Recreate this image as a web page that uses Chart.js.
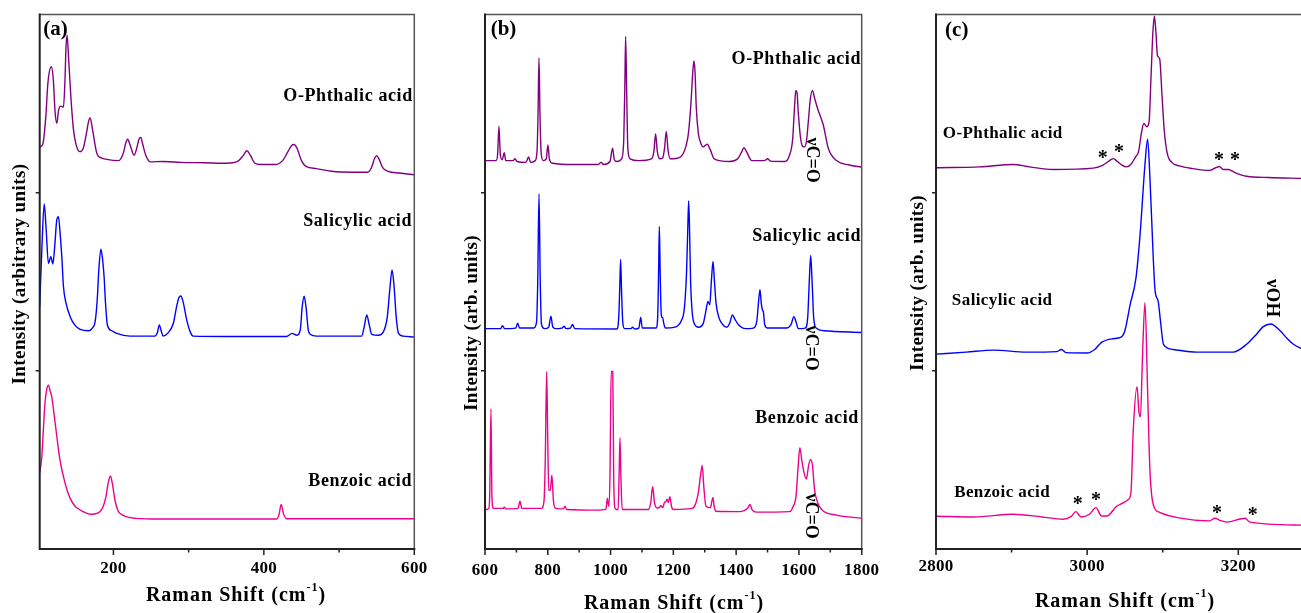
<!DOCTYPE html>
<html lang="en">
<head>
<meta charset="UTF-8" />
<title>Raman spectra</title>
<style>
  html, body { margin: 0; padding: 0; background: #fff; overflow: hidden; }
  body { width: 1301px; height: 613px; position: relative; }
  .panel { position: absolute; top: 0; height: 613px; }
</style>
</head>
<body>
<div class="panel" style="left:0;width:440px"><canvas id="chartA"></canvas></div>
<div class="panel" style="left:440px;width:440px"><canvas id="chartB"></canvas></div>
<div class="panel" style="left:880px;width:430px"><canvas id="chartC"></canvas></div>
<script src="https://cdn.jsdelivr.net/npm/chart.js@4.4.1/dist/chart.umd.min.js"></script>
<script>
// spectra as [raman shift, stacked intensity]
const phthalicA = [[102,2.257],[106,2.27],[110,2.42],[113,2.62],[117.5,2.707],[120,2.64],[122.5,2.45],[124.8,2.389],[127,2.46],[130,2.486],[133.6,2.48],[135.5,2.62],[137,2.82],[138.5,2.884],[140.5,2.75],[143.4,2.54],[147,2.35],[151,2.26],[155.8,2.23],[160,2.25],[164,2.33],[167,2.40],[169,2.42],[172,2.36],[178,2.22],[184,2.195],[191,2.187],[207,2.18],[213,2.22],[216.5,2.28],[219,2.30],[222,2.27],[227.5,2.21],[231,2.25],[234,2.30],[236.4,2.31],[239,2.27],[243,2.21],[249,2.173],[265,2.175],[290,2.17],[320,2.168],[350,2.165],[365,2.175],[372,2.205],[377.5,2.235],[382,2.21],[388,2.165],[395,2.158],[415,2.158],[425,2.18],[432,2.23],[437,2.265],[440,2.27],[444,2.25],[450,2.18],[456,2.148],[470,2.135],[490,2.12],[520,2.115],[538,2.115],[543,2.14],[547,2.19],[550,2.208],[553,2.19],[558,2.14],[565,2.12],[580,2.11],[600,2.10]];
const salicylicA = [[102,1.36],[105,1.70],[108,1.936],[110.5,1.80],[113.6,1.603],[116.8,1.64],[119.5,1.60],[122,1.70],[124.5,1.84],[126.9,1.865],[129,1.78],[131.4,1.64],[133.6,1.472],[137,1.38],[142.5,1.304],[149,1.255],[155.8,1.233],[166.8,1.225],[172,1.24],[175.7,1.276],[178.5,1.40],[180.5,1.56],[183.3,1.682],[185.5,1.63],[187.6,1.528],[189.5,1.38],[192,1.257],[198,1.225],[204.5,1.21],[222,1.195],[255,1.195],[258.5,1.215],[261,1.257],[263.5,1.225],[266,1.195],[272,1.21],[279.7,1.267],[284,1.36],[287,1.41],[289.6,1.42],[292.5,1.39],[297.5,1.285],[302,1.22],[306,1.195],[350,1.193],[430,1.193],[437.6,1.21],[444,1.20],[448.4,1.23],[451,1.36],[453.5,1.419],[456,1.36],[459,1.23],[462,1.204],[470,1.195],[530,1.195],[533.5,1.25],[536.8,1.314],[540,1.26],[543.4,1.205],[552,1.20],[559,1.22],[564,1.30],[567.5,1.46],[570.4,1.566],[573,1.48],[576,1.30],[579,1.21],[585,1.195],[600,1.19]];
const benzoicA = [[102,0.425],[104.8,0.518],[107,0.68],[109,0.818],[111.5,0.90],[113.6,0.92],[116,0.885],[118,0.855],[121,0.76],[124.8,0.63],[128.5,0.51],[133.6,0.406],[138,0.335],[142.5,0.284],[149,0.24],[155.8,0.219],[162,0.205],[169,0.195],[176,0.198],[182,0.209],[186.5,0.24],[190,0.293],[193,0.37],[196,0.41],[198.5,0.37],[202,0.275],[205.5,0.22],[208.7,0.20],[218,0.18],[230,0.172],[260,0.168],[330,0.168],[417,0.168],[420,0.19],[423,0.25],[426,0.20],[430,0.17],[480,0.17],[600,0.17]];

const phthalicB = [[600,2.18],[635,2.18],[640,2.21],[644.5,2.373],[649,2.21],[655,2.185],[661.5,2.224],[666,2.18],[690,2.18],[695.5,2.19],[702,2.175],[730,2.17],[739,2.20],[745,2.17],[760,2.18],[766,2.24],[769,2.45],[772,2.757],[775,2.45],[779,2.22],[786,2.18],[795,2.19],[800.5,2.268],[805,2.19],[815,2.165],[880,2.158],[960,2.158],[969.5,2.17],[978,2.158],[998,2.175],[1006.5,2.25],[1012,2.185],[1020,2.175],[1035,2.19],[1042,2.30],[1045.5,2.60],[1048,2.877],[1051,2.60],[1055,2.25],[1062,2.19],[1090,2.18],[1130,2.19],[1138,2.23],[1143.5,2.329],[1149,2.23],[1157,2.19],[1166,2.195],[1172,2.25],[1177.5,2.344],[1183,2.24],[1190,2.19],[1222,2.20],[1240,2.26],[1248,2.333],[1256,2.50],[1262,2.68],[1265.5,2.739],[1269,2.68],[1273,2.48],[1279.6,2.333],[1285,2.29],[1295,2.257],[1308,2.272],[1318,2.24],[1330,2.19],[1380,2.175],[1405,2.19],[1418,2.23],[1425,2.252],[1433,2.23],[1450,2.18],[1490,2.18],[1500,2.19],[1510,2.177],[1555,2.175],[1570,2.21],[1580,2.30],[1586,2.48],[1590,2.574],[1594,2.56],[1598,2.45],[1605,2.31],[1612,2.26],[1618,2.257],[1624,2.29],[1630,2.40],[1636,2.52],[1643,2.574],[1650,2.53],[1660,2.47],[1670,2.42],[1678,2.377],[1694,2.246],[1720,2.18],[1760,2.155],[1800,2.143]];
const salicylicB = [[600,1.237],[650,1.237],[656,1.254],[662,1.237],[698,1.24],[704,1.267],[710,1.24],[755,1.24],[764,1.27],[768,1.50],[772,1.993],[776,1.50],[780,1.26],[790,1.237],[803,1.245],[810,1.307],[816,1.245],[825,1.237],[845,1.24],[852,1.25],[858,1.237],[872,1.24],[879,1.26],[886,1.237],[1020,1.235],[1026,1.30],[1029,1.45],[1032,1.625],[1035,1.45],[1039,1.27],[1045,1.237],[1065,1.237],[1070,1.245],[1077,1.235],[1090,1.24],[1096,1.30],[1101,1.24],[1145,1.24],[1150,1.30],[1153,1.55],[1155.4,1.811],[1158,1.55],[1161,1.33],[1163,1.30],[1166,1.30],[1169,1.27],[1175,1.24],[1205,1.245],[1212,1.25],[1225,1.28],[1235,1.35],[1242,1.55],[1246,1.80],[1248.8,1.954],[1251.5,1.80],[1255,1.50],[1260,1.33],[1268,1.26],[1280,1.245],[1295,1.265],[1303,1.33],[1310,1.39],[1316,1.37],[1321,1.50],[1326.4,1.614],[1331,1.50],[1336,1.38],[1345,1.30],[1355,1.265],[1370,1.245],[1380,1.27],[1388,1.314],[1396,1.29],[1407,1.26],[1430,1.237],[1455,1.24],[1466,1.28],[1471,1.38],[1476,1.456],[1480,1.38],[1484,1.34],[1487,1.33],[1491,1.26],[1500,1.24],[1560,1.24],[1575,1.26],[1584,1.304],[1590,1.28],[1598,1.237],[1620,1.24],[1628,1.30],[1633,1.50],[1637.5,1.647],[1642,1.50],[1647,1.30],[1655,1.24],[1680,1.225],[1800,1.215]];
const benzoicB = [[600,0.22],[612,0.228],[615,0.30],[619,0.787],[622,0.30],[626,0.228],[658,0.228],[662,0.235],[666,0.225],[705,0.228],[711.5,0.268],[717,0.228],[780,0.228],[788,0.27],[792,0.50],[796.5,0.996],[800,0.60],[803,0.33],[808,0.33],[813,0.414],[818,0.27],[825,0.228],[850,0.225],[855,0.24],[860,0.222],[960,0.218],[985,0.222],[990,0.285],[994,0.24],[998,0.40],[1002,0.996],[1007,0.996],[1010,0.40],[1014,0.228],[1024,0.22],[1027,0.40],[1030,0.623],[1033,0.40],[1037,0.222],[1120,0.222],[1128,0.26],[1134,0.349],[1140,0.26],[1148,0.23],[1157,0.235],[1160,0.245],[1166,0.232],[1172,0.262],[1176,0.265],[1180,0.28],[1184,0.26],[1189,0.294],[1194,0.24],[1200,0.222],[1260,0.228],[1272,0.26],[1280,0.32],[1287,0.42],[1292,0.469],[1297,0.35],[1304,0.24],[1318,0.232],[1323,0.27],[1326,0.29],[1330,0.24],[1336,0.212],[1410,0.21],[1437,0.23],[1444,0.25],[1451,0.22],[1465,0.207],[1570,0.21],[1582,0.24],[1591,0.30],[1597,0.45],[1603,0.568],[1609,0.50],[1616,0.43],[1624,0.393],[1630,0.46],[1637,0.502],[1643,0.47],[1650,0.33],[1660,0.26],[1673,0.22],[1720,0.19],[1800,0.173]];

const phthalicC = [[2800,2.14],[2858,2.145],[2902,2.158],[2924,2.145],[2955,2.13],[3008,2.138],[3021,2.155],[3028,2.175],[3034.6,2.191],[3040,2.175],[3046,2.155],[3052,2.145],[3058,2.16],[3064,2.20],[3068,2.23],[3072,2.34],[3075,2.388],[3079,2.37],[3082,2.40],[3084.5,2.65],[3087,2.90],[3089,2.99],[3091,2.90],[3093,2.77],[3096,2.75],[3099,2.55],[3102,2.35],[3106,2.22],[3112,2.17],[3122,2.15],[3140,2.135],[3162,2.125],[3170,2.14],[3175,2.147],[3180,2.13],[3187,2.13],[3195,2.114],[3211,2.092],[3240,2.085],[3286,2.08]];
const salicylicC = [[2800,1.094],[2840,1.105],[2876,1.116],[2920,1.105],[2960,1.108],[2966,1.12],[2972,1.102],[3000,1.10],[3010,1.12],[3019,1.16],[3034,1.18],[3045,1.189],[3050,1.226],[3056.7,1.368],[3064.6,1.522],[3070,1.763],[3076.5,2.158],[3080,2.30],[3083,2.09],[3087.5,1.63],[3090,1.445],[3094,1.39],[3097,1.28],[3101,1.149],[3114,1.12],[3145,1.105],[3193,1.105],[3211,1.149],[3225,1.21],[3233,1.248],[3243,1.263],[3255,1.226],[3265,1.18],[3273,1.149],[3286,1.12]];
const benzoicC = [[2800,0.184],[2850,0.18],[2902,0.195],[2940,0.18],[2968,0.167],[2979,0.183],[2985,0.21],[2992,0.18],[3003,0.195],[3011.7,0.232],[3019,0.185],[3026,0.185],[3039,0.24],[3048,0.26],[3055,0.28],[3058,0.32],[3061,0.667],[3066,0.911],[3068.5,0.77],[3070.5,0.742],[3073.4,1.105],[3076.5,1.382],[3080,0.886],[3083,0.447],[3087.5,0.25],[3096,0.206],[3123,0.173],[3162,0.158],[3169,0.173],[3176,0.16],[3185,0.151],[3209,0.173],[3215,0.151],[3286,0.134]];

const compounds = ['O-Phthalic acid', 'Salicylic acid', 'Benzoic acid'];
const colors = ['#800080', '#0000ff', '#ec008c'];
const ticksA = [200, 400, 600], minorA = [300, 500];
const ticksB = [600, 800, 1000, 1200, 1400, 1600, 1800], minorB = [700, 900, 1100, 1300, 1500, 1700];
const ticksC = [2800, 3000, 3200], minorC = [2900, 3100];
const yTicks = [1, 2];

const SERIF = '"Liberation Serif", "Times New Roman", serif';

function put(ctx, str, x, y, size, align, rot, spacing) {
  ctx.save();
  ctx.font = 'bold ' + size + 'px ' + SERIF;
  ctx.letterSpacing = (spacing || 0) + 'px';
  ctx.fillStyle = '#000';
  ctx.textBaseline = 'middle';
  ctx.translate(x, y);
  if (rot) ctx.rotate(rot);
  ctx.textAlign = align || 'center';
  ctx.fillText(str, 0, 0);
  ctx.restore();
}

function ramanTitle(ctx, cx, cy) {
  ctx.save();
  ctx.fillStyle = '#000';
  ctx.textBaseline = 'middle';
  ctx.letterSpacing = '1px';
  const big = 'bold 20px ' + SERIF, small = 'bold 12px ' + SERIF;
  ctx.font = big; const w1 = ctx.measureText('Raman Shift (cm').width, w3 = ctx.measureText(')').width;
  ctx.font = small; const w2 = ctx.measureText('-1').width;
  let x = cx - (w1 + w2 + w3) / 2;
  ctx.textAlign = 'left';
  ctx.font = big; ctx.fillText('Raman Shift (cm', x, cy); x += w1;
  ctx.font = small; ctx.fillText('-1', x, cy - 8); x += w2;
  ctx.font = big; ctx.fillText(')', x, cy);
  ctx.restore();
}

const decor = {
  id: 'decor',
  afterDraw(chart, args, o) {
    const ctx = chart.ctx, a = chart.chartArea, xs = chart.scales.x, ys = chart.scales.y;
    ctx.save();
    ctx.lineCap = 'square';
    ctx.strokeStyle = '#555'; ctx.lineWidth = 1.5;
    ctx.beginPath(); ctx.moveTo(a.left, a.top); ctx.lineTo(a.right, a.top); ctx.lineTo(a.right, a.bottom); ctx.stroke();
    ctx.strokeStyle = '#222'; ctx.lineWidth = 2;
    ctx.beginPath(); ctx.moveTo(a.left, a.top); ctx.lineTo(a.left, a.bottom); ctx.lineTo(a.right, a.bottom); ctx.stroke();
    ctx.lineWidth = 1.5; ctx.lineCap = 'butt';
    ctx.beginPath();
    o.major.forEach(v => { const p = xs.getPixelForValue(v); ctx.moveTo(p, a.bottom); ctx.lineTo(p, a.bottom + 6); });
    o.minor.forEach(v => { const p = xs.getPixelForValue(v); ctx.moveTo(p, a.bottom); ctx.lineTo(p, a.bottom + 3.5); });
    yTicks.forEach(v => { const p = ys.getPixelForValue(v); ctx.moveTo(a.left - 4, p); ctx.lineTo(a.left, p); });
    ctx.stroke();
    ctx.restore();

    o.major.forEach(v => put(ctx, String(v), xs.getPixelForValue(v), o.tickY, 17, 'center', 0, 0.3));
    ramanTitle(ctx, o.xTitle[0], o.xTitle[1]);
    put(ctx, o.yTitle[2], o.yTitle[0], o.yTitle[1], 19, 'center', -Math.PI / 2, 0.4);
    o.notes.forEach(n => put(ctx, n.t, xs.getPixelForValue(n.x), ys.getPixelForValue(n.y), n.s || 18, n.a || 'center', n.r || 0, n.sp == null ? 0.6 : n.sp));
  }
};

function makePanel(id, spectra, xmin, xmax, pad, decorOpts) {
  new Chart(document.getElementById(id), {
    type: 'line',
    data: {
      datasets: spectra.map((s, i) => ({
        label: compounds[i],
        data: s.map(p => ({ x: p[0], y: p[1] })),
        borderColor: colors[i],
        borderWidth: 1.4,
        pointRadius: 0,
        cubicInterpolationMode: 'monotone',
        fill: false
      }))
    },
    options: {
      responsive: true,
      maintainAspectRatio: false,
      animation: false,
      layout: { padding: pad },
      scales: {
        x: { type: 'linear', min: xmin, max: xmax, display: false },
        y: { type: 'linear', min: 0, max: 3, display: false }
      },
      plugins: { legend: { display: false }, tooltip: { enabled: false }, decor: decorOpts }
    },
    plugins: [decor]
  });
}

const R = Math.PI / 2;

makePanel('chartA', [phthalicA, salicylicA, benzoicA], 102, 600,
  { left: 39.7, right: 25.7, top: 14.5, bottom: 64 },
  { major: ticksA, minor: minorA, tickY: 569, xTitle: [236, 596], yTitle: [20, 274, 'Intensity (arbitrary units)'],
    notes: [
      { t: compounds[0], x: 598, y: 2.542, a: 'right' },
      { t: compounds[1], x: 597, y: 1.841, a: 'right' },
      { t: compounds[2], x: 597, y: 0.382, a: 'right' },
      { t: '(a)', x: 106.6, y: 2.918, a: 'left', s: 21, sp: 0 }
    ] });

makePanel('chartB', [phthalicB, salicylicB, benzoicB], 600, 1800,
  { left: 45, right: 18.3, top: 14.5, bottom: 64 },
  { major: ticksB, minor: minorB, tickY: 571, xTitle: [234, 604], yTitle: [32, 323, 'Intensity (arb. units)'],
    notes: [
      { t: compounds[0], x: 1798, y: 2.75, a: 'right' },
      { t: compounds[1], x: 1798, y: 1.756, a: 'right' },
      { t: compounds[2], x: 1791, y: 0.735, a: 'right' },
      { t: '(b)', x: 618, y: 2.918, a: 'left', s: 21, sp: 0 },
      { t: '\u03BDC=O', x: 1641.7, y: 2.183, r: R, sp: 0 },
      { t: '\u03BDC=O', x: 1638.5, y: 1.128, r: R, sp: 0 },
      { t: '\u03BDC=O', x: 1638.5, y: 0.185, r: R, sp: 0 }
    ] });

makePanel('chartC', [phthalicC, salicylicC, benzoicC], 2800, 3285.6,
  { left: 56, right: 7, top: 14.5, bottom: 64 },
  { major: ticksC, minor: minorC, tickY: 567, xTitle: [245, 602], yTitle: [38, 283, 'Intensity (arb. units)'],
    notes: [
      { t: compounds[0], x: 2809, y: 2.329, a: 'left', s: 17, sp: 0.4 },
      { t: compounds[1], x: 2821, y: 1.392, a: 'left', s: 17, sp: 0.4 },
      { t: compounds[2], x: 2824, y: 0.314, a: 'left', s: 17, sp: 0.4 },
      { t: '(c)', x: 2812, y: 2.907, a: 'left', s: 21, sp: 0 },
      { t: '\u03BDOH', x: 3244.6, y: 1.408, r: R, s: 19, sp: 0 },
      { t: '*', x: 3020.6, y: 2.19, s: 20, sp: 0 },
      { t: '*', x: 3042, y: 2.225, s: 20, sp: 0 },
      { t: '*', x: 3174.4, y: 2.18, s: 20, sp: 0 },
      { t: '*', x: 3195.6, y: 2.18, s: 20, sp: 0 },
      { t: '*', x: 2987.5, y: 0.25, s: 20, sp: 0 },
      { t: '*', x: 3011.7, y: 0.272, s: 20, sp: 0 },
      { t: '*', x: 3171.8, y: 0.2, s: 20, sp: 0 },
      { t: '*', x: 3219, y: 0.188, s: 20, sp: 0 }
    ] });
</script>
</body>
</html>
